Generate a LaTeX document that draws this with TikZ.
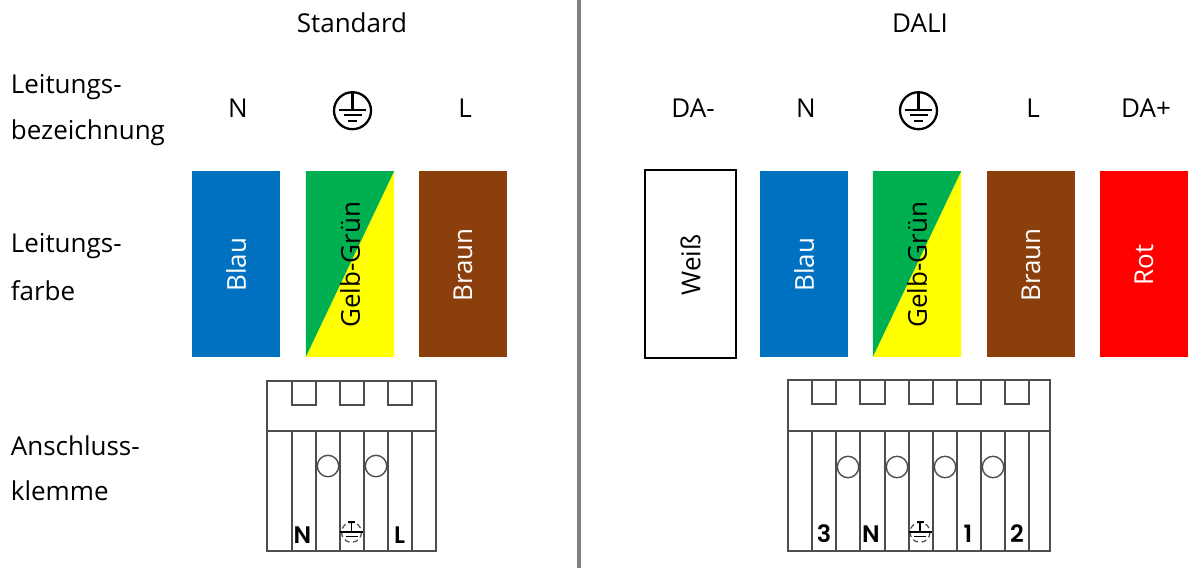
\documentclass[tikz,border=0pt]{standalone}
\usepackage{fontspec}
\setmainfont{Open Sans}
\newfontfamily\termfont{Poppins SemiBold}
\definecolor{cblue}{HTML}{0070C0}
\definecolor{cgreen}{HTML}{00B050}
\definecolor{cyellow}{HTML}{FFFF00}
\definecolor{cbrown}{HTML}{8B3F0D}
\definecolor{cred}{HTML}{FF0000}
\definecolor{cline}{HTML}{4D4D4D}
\newcommand{\txt}{\fontsize{14.8pt}{17pt}\selectfont}
\tikzset{
 lab/.style={inner sep=0pt,font=\txt,text=black},
 leftlab/.style={lab,anchor=west,align=left},
 wire/.style={minimum width=49.9pt,minimum height=105.4pt,inner sep=0pt,draw=none},
 wiretxt/.style={lab,rotate=90},
 clamp/.style={draw=cline,line width=1.13pt},
 hole/.style={circle,draw=cline,line width=0.8pt,minimum size=12.2pt,inner sep=0pt},
 term/.style={inner sep=0pt,font=\fontsize{13.6pt}{14pt}\termfont,text=black},
}
\newcommand{\earth}[2]{% x,y
 \begin{scope}[shift={(#1,#2)}]
  \draw[black,line width=1.3pt] (0,0) circle (18.5);
  \draw[black,line width=1.2pt] (0,-18) -- (0,-1);
  \draw[black,line width=1.2pt] (-13.5,-1) -- (13.5,-1);
  \draw[black,line width=1.2pt] (-9,4.5) -- (9,4.5);
  \draw[black,line width=1.2pt] (-4.5,10.5) -- (4.5,10.5);
 \end{scope}}
\newcommand{\smallearth}[2]{% x,y
 \begin{scope}[shift={(#1,#2)}]
  \draw[cline,line width=0.7pt,densely dashed] (0,0) circle (10);
  \draw[black,line width=1pt] (0,-10) -- (0,0) (-11.5,0) -- (11.5,0) (-3.5,-10) -- (3.5,-10);
  \draw[black,line width=0.9pt] (-6,4) -- (6,4);
 \end{scope}}
\begin{document}
\begin{tikzpicture}[x=0.02cm,y=-0.02cm]
\useasboundingbox (0,0) rectangle (1189,568);
\fill[white] (0,0) rectangle (1189,568);
% divider
\coordinate (dtop) at (579,0);
\coordinate (dbot) at (579,568);
\draw[color=black!50,line width=2.4pt] (dtop) -- (dbot);
% headings
\node[lab] (hstd) at (352,23) {Standard};
\node[lab] (hdali) at (920,23) {DALI};
% row labels
\node[leftlab] (l1a) at (10.5,87.5) {Leitungs-};
\node[leftlab] (l1b) at (10.5,133) {bezeichnung};
\node[leftlab] (l2a) at (10.5,246.5) {Leitungs-};
\node[leftlab] (l2b) at (10.5,290.5) {farbe};
\node[leftlab] (l3a) at (10.5,445.5) {Anschluss-};
\node[leftlab] (l3b) at (10.5,490.5) {klemme};
% wire names
\node[lab] (n1) at (238,108) {N};
\node[lab] (n2) at (465,108) {L};
\node[lab] (n3) at (693,108) {DA-};
\node[lab] (n4) at (806,108) {N};
\node[lab] (n5) at (1033,108) {L};
\node[lab] (n6) at (1146,108) {DA+};
\earth{352.5}{110.7}
\earth{918.5}{110.7}
% wires, standard
\node[wire,fill=cblue] (w1) at (236,264) {};
\node[wiretxt,text=white,xshift=-0.5pt] at (w1) {Blau};
\node[wire] (w2) at (350,264) {};
\fill[cyellow] (w2.north east) -- (w2.south east) -- (w2.south west) -- cycle;
\fill[cgreen] (w2.north west) -- (w2.north east) -- (w2.south west) -- cycle;
\node[wiretxt,xshift=-0.5pt] at (w2) {Gelb-Grün};
\node[wire,fill=cbrown] (w3) at (463,264) {};
\node[wiretxt,text=white,xshift=-0.5pt] at (w3) {Braun};
% wires, DALI
\node[wire,minimum width=52pt,minimum height=107.2pt,draw=black,line width=1.2pt,fill=white] (w4) at (690.5,264) {};
\node[wiretxt,xshift=-0.5pt] at (w4) {Weiß};
\node[wire,fill=cblue] (w5) at (804,264) {};
\node[wiretxt,text=white,xshift=-0.5pt] at (w5) {Blau};
\node[wire] (w6) at (917,264) {};
\fill[cyellow] (w6.north east) -- (w6.south east) -- (w6.south west) -- cycle;
\fill[cgreen] (w6.north west) -- (w6.north east) -- (w6.south west) -- cycle;
\node[wiretxt,xshift=-0.5pt] at (w6) {Gelb-Grün};
\node[wire,fill=cbrown] (w7) at (1031,264) {};
\node[wiretxt,text=white,xshift=-0.5pt] at (w7) {Braun};
\node[wire,fill=cred] (w8) at (1144,264) {};
\node[wiretxt,text=white,xshift=-0.5pt] at (w8) {Rot};
% clamp, standard
\draw[clamp] (267,381) rectangle (436,551);
\draw[clamp] (267,431) -- (436,431);
\foreach \x in {292,316,340,364,388,412} \draw[clamp] (\x,431) -- (\x,551);
\foreach \x/\y in {292/316,340/364,388/412} \draw[clamp] (\x,381) -- (\x,405) -- (\y,405) -- (\y,381);
\node[hole] (c1) at (328,466) {};
\node[hole] (c2) at (376,466) {};
\node[term] (t1) at (302.5,535) {N};
\node[term] (t2) at (399.5,535) {L};
\smallearth{351.5}{532.3}
% clamp, DALI
\draw[clamp] (788,380) rectangle (1050,551);
\draw[clamp] (788,431) -- (1050,431);
\foreach \x in {812,836,860,885,909,933,957,981,1005,1029} \draw[clamp] (\x,431) -- (\x,551);
\foreach \x/\y in {812/836,860/885,909/933,957/981,1005/1029} \draw[clamp] (\x,380) -- (\x,404) -- (\y,404) -- (\y,380);
\node[hole] (c3) at (848,467) {};
\node[hole] (c4) at (897,467) {};
\node[hole] (c5) at (945,467) {};
\node[hole] (c6) at (993,467) {};
\node[term] (t3) at (824,534) {3};
\node[term] (t4) at (871,534) {N};
\node[term] (t5) at (968,534) {1};
\node[term] (t6) at (1017,534) {2};
\smallearth{920}{532.3}
\end{tikzpicture}
\end{document}
